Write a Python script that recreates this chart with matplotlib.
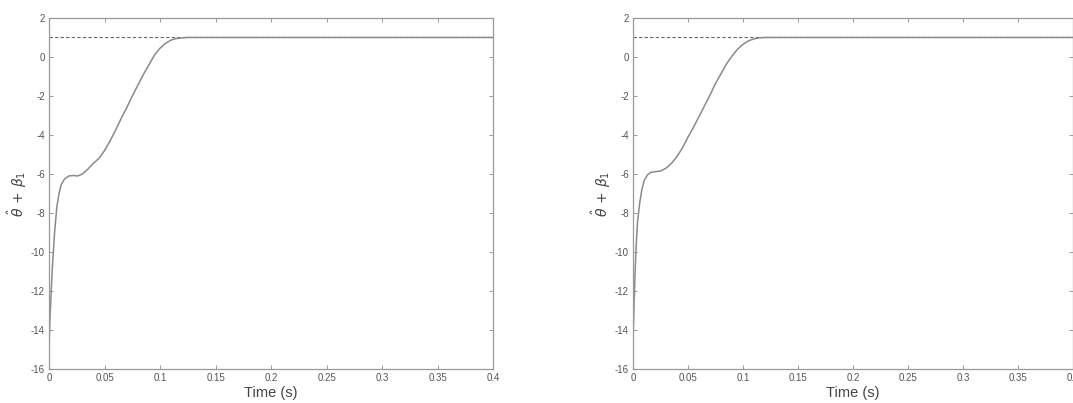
import numpy as np
import matplotlib.pyplot as plt
from matplotlib.ticker import FormatStrFormatter, MultipleLocator

plt.rcParams['font.family'] = ['Liberation Sans', 'DejaVu Sans']
plt.rcParams['axes.unicode_minus'] = False

# estimate theta_hat + beta_1 for the two runs
t_a = [0, 0.001, 0.002, 0.003, 0.005, 0.007, 0.009, 0.011, 0.014, 0.018,
       0.022, 0.026, 0.030, 0.035, 0.040, 0.045, 0.050, 0.055, 0.060, 0.065,
       0.070, 0.075, 0.080, 0.085, 0.090, 0.095, 0.100, 0.105, 0.110, 0.115,
       0.120, 0.125, 0.130, 0.4]
y_a = [-14.8, -13.2, -12.0, -10.8, -9.0, -7.7, -7.0, -6.55, -6.25, -6.1,
       -6.08, -6.1, -6.0, -5.75, -5.45, -5.2, -4.8, -4.3, -3.75, -3.15,
       -2.6, -2.0, -1.45, -0.9, -0.4, 0.1, 0.45, 0.7, 0.87, 0.95,
       0.98, 1.0, 1.0, 1.0]

t_b = [0, 0.001, 0.002, 0.003, 0.004, 0.006, 0.008, 0.010, 0.013, 0.016,
       0.020, 0.025, 0.030, 0.035, 0.040, 0.045, 0.050, 0.055, 0.060, 0.065,
       0.070, 0.075, 0.080, 0.085, 0.090, 0.095, 0.100, 0.105, 0.110, 0.115,
       0.120, 0.125, 0.4]
y_b = [-14.6, -12.5, -10.8, -9.5, -8.5, -7.5, -6.8, -6.35, -6.05, -5.92,
       -5.88, -5.85, -5.7, -5.45, -5.1, -4.65, -4.1, -3.6, -3.05, -2.5,
       -1.95, -1.35, -0.85, -0.35, 0.05, 0.4, 0.65, 0.83, 0.93, 0.98,
       1.0, 1.0, 1.0]

target = 1.0
xlim = (0, 0.4)
ylim = (-16, 2)

fig = plt.figure(figsize=(10.73, 4.03), dpi=100)
ax1 = fig.add_axes([0.0457, 0.0844, 0.4138, 0.871])
ax2 = fig.add_axes([0.590, 0.0844, 0.4100, 0.871])

for ax, t, y in [(ax1, t_a, y_a), (ax2, t_b, y_b)]:
    ax.plot(xlim, [target, target], ls=(0, (3, 2)), color='#666666', lw=0.8)
    ax.plot(t, y, color='#8a8a8a', lw=1.1)
    ax.set_xlim(*xlim)
    ax.set_ylim(*ylim)
    ax.xaxis.set_major_locator(MultipleLocator(0.05))
    ax.yaxis.set_major_locator(MultipleLocator(2))
    ax.xaxis.set_major_formatter(FormatStrFormatter('%g'))
    ax.tick_params(direction='in', top=True, right=True, length=3, width=0.7,
                   color='#999999', labelsize=7, labelcolor='#555555', pad=3)
    for s in ax.spines.values():
        s.set_color('#999999')
        s.set_linewidth(0.9)
    ax.set_xlabel('Time (s)', fontsize=10.5, color='#444444', labelpad=2)
    ax.set_ylabel(r'$\hat{\theta}\,+\,\beta_1$', fontsize=10, color='#444444',
                  labelpad=1)

fig.savefig('out.png', dpi=100)
